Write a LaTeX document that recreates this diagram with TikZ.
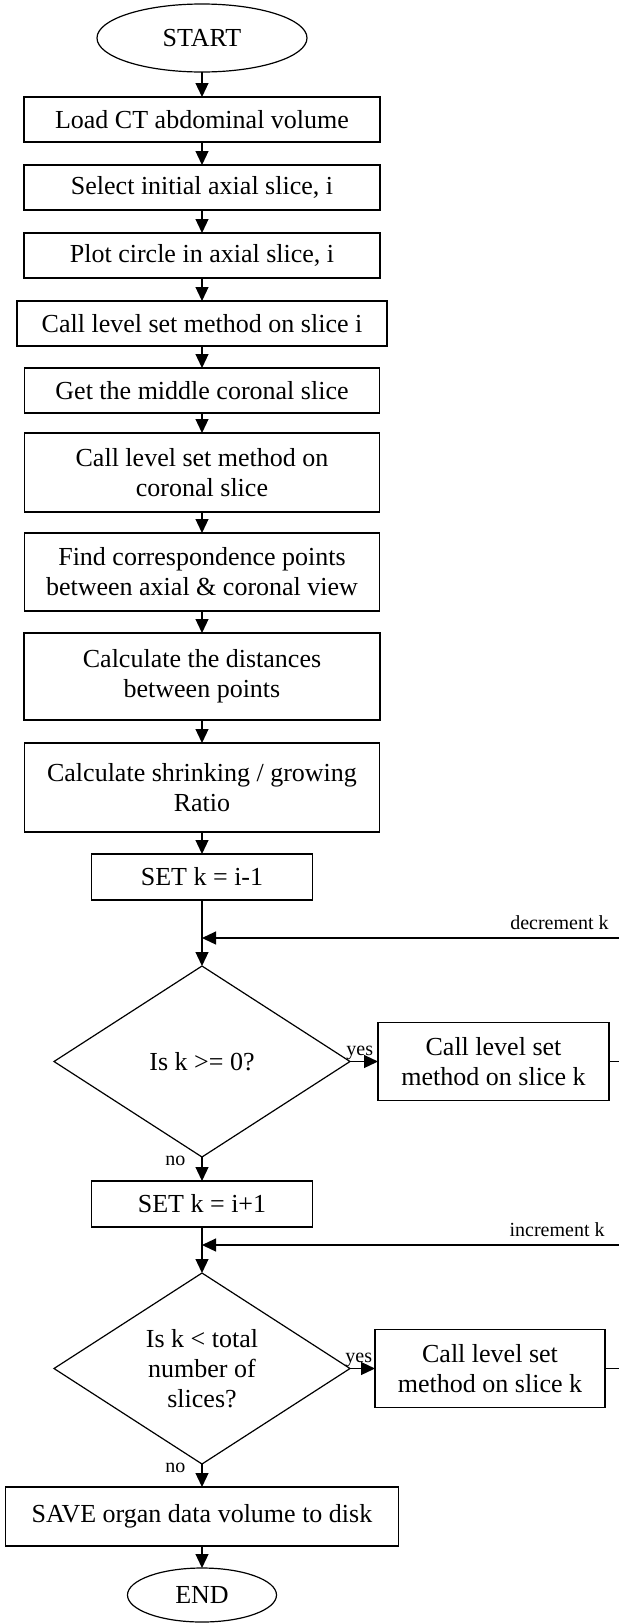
\documentclass[tikz,border=0pt]{standalone}
\usepackage{fontspec}
\setmainfont{Liberation Serif}
\usetikzlibrary{arrows.meta,positioning,shapes.geometric}

\begin{document}
\begin{tikzpicture}[
  font=\fontsize{13}{15}\selectfont,
  terminal/.style={draw, ellipse, inner sep=0pt, outer sep=0pt, line width=0.6pt},
  process/.style={draw, rectangle, align=center, inner sep=2pt, outer sep=0pt,
    minimum height=22.5pt, line width=0.6pt},
  decision/.style={draw, diamond, aspect=1.55, inner sep=0pt, outer sep=0pt, align=center,
    minimum width=148pt, minimum height=95.5pt, line width=0.6pt},
  flow/.style={-{Triangle[length=7pt,width=6.5pt]}, line width=0.6pt},
  lbl/.style={font=\fontsize{10}{12}\selectfont, inner sep=1pt}
]
\useasboundingbox (0,0) rectangle (309pt,-811.5pt);
\node[terminal, minimum width=105pt, minimum height=34pt] (start) at (101pt,-19pt) {START};
\node[process, minimum width=178pt, below=12.5pt of start] (load) {Load CT abdominal volume};
\node[process, minimum width=178pt, below=11.5pt of load] (select) {Select initial axial slice, i};
\node[process, minimum width=178pt, below=11.5pt of select] (plot) {Plot circle in axial slice, i};
\node[process, minimum width=185pt, below=11.5pt of plot] (callaxial) {Call level set method on slice i};
\node[process, minimum width=177.5pt, below=11pt of callaxial] (middle) {Get the middle coronal slice};
\node[process, minimum width=177.5pt, minimum height=39.5pt, below=10pt of middle] (callcoronal)
  {Call level set method on\\coronal slice};
\node[process, minimum width=177.5pt, minimum height=39pt, below=10.5pt of callcoronal] (corresp)
  {Find correspondence points\\between axial \& coronal view};
\node[process, minimum width=178pt, minimum height=43.5pt, below=11pt of corresp] (dist)
  {Calculate the distances\\between points};
\node[process, minimum width=177.5pt, minimum height=44.5pt, below=11.5pt of dist] (ratio)
  {Calculate shrinking / growing\\Ratio};
\node[process, minimum width=110.5pt, minimum height=23pt, below=11pt of ratio] (setdec) {SET k = i-1};
\node[decision, below=33pt of setdec] (dec) {Is k >= 0?};
\node[process, minimum width=115.5pt, minimum height=39pt, right=14pt of dec] (calldec)
  {Call level set\\method on slice k};
\node[process, minimum width=110.5pt, minimum height=23pt, below=12pt of dec] (setinc) {SET k = i+1};
\node[decision, below=23pt of setinc] (inc) {Is k < total\\number of\\slices?};
\node[process, minimum width=115pt, minimum height=39pt, right=12.5pt of inc] (callinc)
  {Call level set\\method on slice k};
\node[process, minimum width=196.5pt, minimum height=29.5pt, below=11.5pt of inc] (save)
  {SAVE organ data volume to disk};
\node[terminal, minimum width=74.5pt, minimum height=27pt, below=11pt of save] (finish) {END};
% loop joins
\coordinate[below=19pt of setdec] (joindec);
\coordinate[below=9pt of setinc] (joininc);
\coordinate (decedge) at (joindec -| calldec.east);
\coordinate (incedge) at (joininc -| callinc.east);
\node[lbl, above left=3pt and -1pt of decedge] (declbl) {decrement k};
\node[lbl, above left=3pt and -1pt of incedge] (inclbl) {increment k};
\draw[flow] (start) -- (load);
\draw[flow] (load) -- (select);
\draw[flow] (select) -- (plot);
\draw[flow] (plot) -- (callaxial);
\draw[flow] (callaxial) -- (middle);
\draw[flow] (middle) -- (callcoronal);
\draw[flow] (callcoronal) -- (corresp);
\draw[flow] (corresp) -- (dist);
\draw[flow] (dist) -- (ratio);
\draw[flow] (ratio) -- (setdec);
\draw[flow] (setdec) -- (dec);
\draw[flow] (dec.east) -- node[lbl, above, pos=0.35, inner sep=0.5pt] {yes} (calldec);
\draw[flow] (calldec.east) -- ++(12pt,0) |- (joindec);
\draw[flow] (dec.south) -- node[lbl, left=7pt, pos=0.17] {no} (setinc);
\draw[flow] (setinc) -- (inc);
\draw[flow] (inc.east) -- node[lbl, above, pos=0.35, inner sep=0.5pt] {yes} (callinc);
\draw[flow] (callinc.east) -- ++(12pt,0) |- (joininc);
\draw[flow] (inc.south) -- node[lbl, left=7pt, pos=0.17] {no} (save);
\draw[flow] (save) -- (finish);
\end{tikzpicture}
\end{document}
